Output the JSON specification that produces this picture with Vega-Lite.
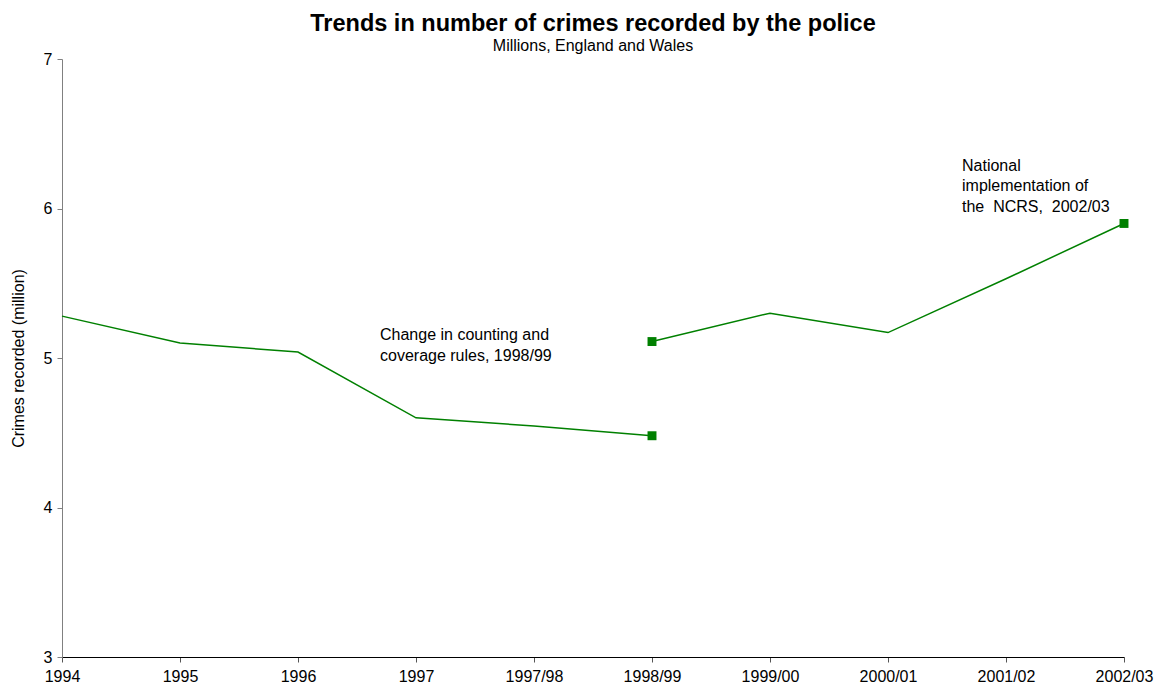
{
  "$schema": "https://vega.github.io/schema/vega-lite/v6.json",
  "width": 1062,
  "height": 598,
  "autosize": {"type": "none"},
  "padding": {"left": 62, "top": 59, "right": 37, "bottom": 31},
  "background": "white",
  "config": {
    "view": {"stroke": null},
    "font": "Liberation Sans",
    "axis": {"labelFont": "Liberation Sans", "titleFont": "Liberation Sans"},
    "title": {"font": "Liberation Sans", "subtitleFont": "Liberation Sans"},
    "text": {"font": "Liberation Sans"}
  },
  "title": {
    "text": "Trends in number of crimes recorded by the police",
    "subtitle": "Millions, England and Wales",
    "fontSize": 23.5,
    "fontWeight": "bold",
    "subtitleFontSize": 16,
    "subtitleFontWeight": "normal",
    "subtitlePadding": 3,
    "color": "black",
    "subtitleColor": "black",
    "anchor": "middle",
    "offset": -3
  },
  "datasets": {
    "crimes": [
      {"year": "1994", "series": "old", "value": 5.28},
      {"year": "1995", "series": "old", "value": 5.10},
      {"year": "1996", "series": "old", "value": 5.04},
      {"year": "1997", "series": "old", "value": 4.60},
      {"year": "1997/98", "series": "old", "value": 4.545},
      {"year": "1998/99", "series": "old", "value": 4.48},
      {"year": "1998/99", "series": "new", "value": 5.11},
      {"year": "1999/00", "series": "new", "value": 5.30},
      {"year": "2000/01", "series": "new", "value": 5.17},
      {"year": "2001/02", "series": "new", "value": 5.53},
      {"year": "2002/03", "series": "new", "value": 5.90}
    ],
    "notes": [
      {"year": "1997", "value": 5.205, "label": ["Change in counting and", "coverage rules, 1998/99"], "shift": -36},
      {"year": "2001/02", "value": 6.34, "label": ["National", "implementation of", "the\u00a0 NCRS,\u00a0 2002/03"], "shift": -44}
    ]
  },
  "layer": [
    {
      "data": {"name": "crimes"},
      "mark": {"type": "line", "color": "#008000", "strokeWidth": 1.5},
      "encoding": {
        "x": {
          "field": "year", "type": "ordinal",
          "sort": ["1994","1995","1996","1997","1997/98","1998/99","1999/00","2000/01","2001/02","2002/03"],
          "scale": {"type": "point", "padding": 0},
          "axis": {
            "title": null, "labelAngle": 0, "labelFontSize": 16, "labelColor": "black",
            "domainColor": "black", "tickColor": "#555", "tickSize": 5, "labelPadding": 6,
            "labelOverlap": false, "grid": false
          }
        },
        "y": {
          "field": "value", "type": "quantitative",
          "scale": {"domain": [3, 7], "nice": false, "zero": false},
          "axis": {
            "title": "Crimes recorded (million)", "titleFontSize": 16, "titleFontWeight": "normal",
            "titleColor": "black", "titlePadding": 17,
            "values": [3, 4, 5, 6, 7], "format": "d", "labelFontSize": 16, "labelColor": "black",
            "domainColor": "#808080", "tickColor": "#808080", "tickSize": 5, "labelPadding": 5,
            "grid": false
          }
        },
        "detail": {"field": "series"}
      }
    },
    {
      "data": {"name": "crimes"},
      "transform": [{"filter": "datum.year == '1998/99' || datum.year == '2002/03'"}],
      "mark": {"type": "point", "shape": "square", "filled": true, "color": "#008000", "size": 80, "opacity": 1},
      "encoding": {
        "x": {"field": "year", "type": "ordinal", "sort": ["1994","1995","1996","1997","1997/98","1998/99","1999/00","2000/01","2001/02","2002/03"]},
        "y": {"field": "value", "type": "quantitative"}
      }
    },
    {
      "data": {"name": "notes"},
      "mark": {"type": "text", "align": "left", "baseline": "top", "fontSize": 16, "lineHeight": 20.5, "color": "black"},
      "encoding": {
        "x": {"field": "year", "type": "ordinal", "sort": ["1994","1995","1996","1997","1997/98","1998/99","1999/00","2000/01","2001/02","2002/03"]},
        "y": {"field": "value", "type": "quantitative"},
        "text": {"field": "label"},
        "xOffset": {"field": "shift", "type": "quantitative", "scale": null}
      }
    }
  ]
}
